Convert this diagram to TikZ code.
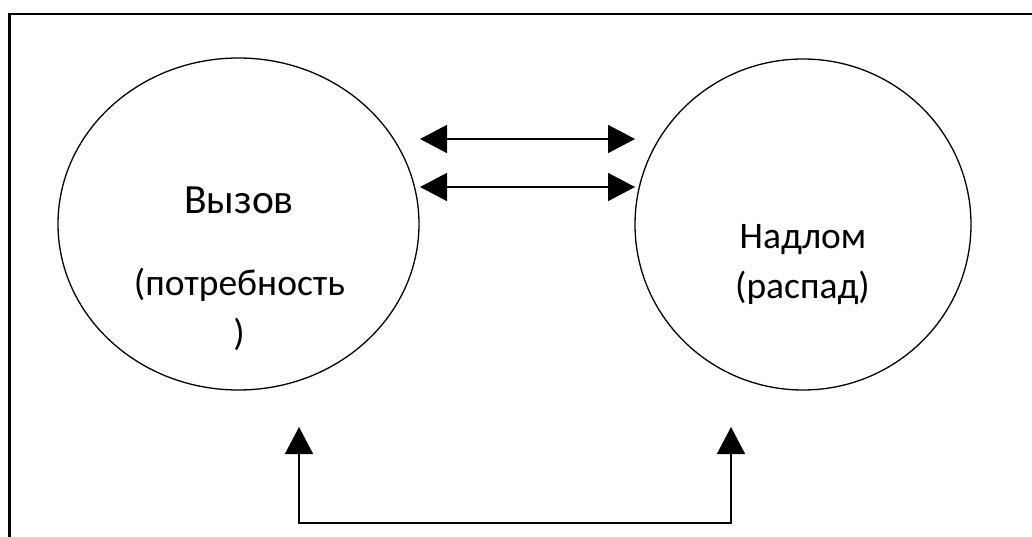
\documentclass[tikz,border=0pt]{standalone}
\usepackage{fontspec}
\setmainfont{Carlito}
\usetikzlibrary{arrows.meta,shapes.geometric}
\tikzset{
  frameline/.style={line width=2.4pt, line cap=rect},
  bubble/.style={draw, ellipse, line width=1.3pt, inner sep=0pt},
  link/.style={line width=1.7pt, {Triangle[length=27pt,width=28pt]}-{Triangle[length=27pt,width=28pt]}},
  bigtext/.style={anchor=base, inner sep=0pt, font=\fontsize{41.5}{48}\selectfont},
  smalltext/.style={anchor=base, inner sep=0pt, font=\fontsize{37.5}{43}\selectfont},
}
\begin{document}
\begin{tikzpicture}[x=1pt,y=-1pt]
\useasboundingbox (0,0) rectangle (1032,537);
% frame (cut at right and bottom)
\coordinate (fbl) at (9.5,540);
\coordinate (ftl) at (9.5,14.3);
\coordinate (ftr) at (1040,14.3);
\draw[frameline] (fbl) -- (ftl) -- (ftr);
% circles
\node[bubble, minimum width=361pt, minimum height=332pt] (call) at (238.5,224) {};
\node[bubble, minimum width=336pt, minimum height=331pt] (fall) at (803,224.5) {};
% texts
\node[bigtext] (t1) at (239,214) {Вызов};
\node[smalltext] (t2) at (239.5,295) {(потребность};
\node[smalltext] (t3) at (239,345) {)};
\node[smalltext] (t4) at (803,248) {Надлом};
\node[smalltext] (t5) at (802.5,298) {(распад)};
% arrows between circles
\coordinate (a1l) at (420,139);
\coordinate (a1r) at (635,139);
\coordinate (a2l) at (420,187);
\coordinate (a2r) at (635,187);
\draw[link] (a1l) -- (a1r);
\draw[link] (a2l) -- (a2r);
% bottom loop
\coordinate (bl) at (299,427);
\coordinate (blc) at (299,523);
\coordinate (brc) at (731,523);
\coordinate (br) at (731,427);
\draw[link, line join=miter] (bl) -- (blc) -- (brc) -- (br);
\end{tikzpicture}
\end{document}
